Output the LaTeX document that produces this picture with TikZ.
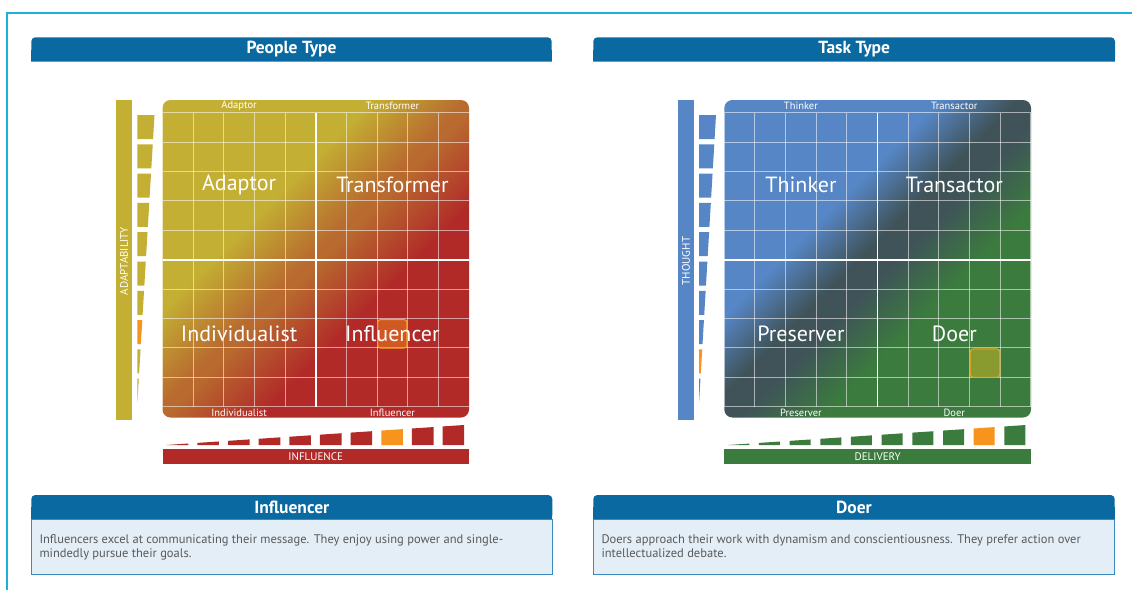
\documentclass[tikz,border=0pt]{standalone}
\usepackage{fontspec}
\setmainfont{PT Sans}
\usetikzlibrary{calc}

\definecolor{framecyan}{HTML}{1CB0DC}
\definecolor{hdrblue}{HTML}{0A69A0}
\definecolor{hdredge}{HTML}{5E9CC8}
\definecolor{descfill}{HTML}{E4EEF6}
\definecolor{descedge}{HTML}{3A89BF}
\definecolor{bodygray}{HTML}{5A5A5A}
\definecolor{pyel}{HTML}{C3AF33}
\definecolor{pmid}{HTML}{B86A2F}
\definecolor{pred}{HTML}{B12A28}
\definecolor{tblue}{HTML}{5686C6}
\definecolor{tdark}{HTML}{3F5359}
\definecolor{tgreen}{HTML}{3B7B3D}
\definecolor{hiorange}{HTML}{F7941E}
\definecolor{hiedge}{HTML}{F5A623}
\definecolor{hiyellow}{HTML}{E8C020}

% olive -> orange-brown -> red band across the diagonal
\pgfdeclarehorizontalshading{peopleband}{100bp}{color(0bp)=(pyel); color(42bp)=(pyel); color(49.5bp)=(pmid); color(50.5bp)=(pmid); color(58bp)=(pred); color(100bp)=(pred)}
% blue -> slate -> green band across the diagonal
\pgfdeclarehorizontalshading{taskband}{100bp}{color(0bp)=(tblue); color(42.5bp)=(tblue); color(48.5bp)=(tdark); color(51.5bp)=(tdark); color(58bp)=(tgreen); color(100bp)=(tgreen)}

\tikzset{
  hdrtext/.style={text=white, font=\fontsize{17.5}{19}\selectfont\bfseries, inner sep=0pt},
  bandlabel/.style={text=white, font=\fontsize{10.5}{12}\selectfont, inner sep=0pt},
  biglabel/.style={text=white, font=\fontsize{22}{24}\selectfont, inner sep=0pt},
  axislabel/.style={text=white, font=\fontsize{11}{12}\selectfont, inner sep=0pt},
  bodytext/.style={text=bodygray, font=\fontsize{12.5}{14}\selectfont, align=left, inner sep=0pt},
  gridline/.style={white, opacity=0.55, line width=1pt},
  midline/.style={white, line width=1.6pt},
  hicell/.style={fill=hiorange, fill opacity=0.45, draw=hiedge, line width=1pt, rounded corners=3pt},
}

\begin{document}
\begin{tikzpicture}[x=1pt, y=-1pt]
\useasboundingbox (0,0) rectangle (1132,590);
\fill[white] (0,0) rectangle (1132,590);

% page frame
\draw[framecyan, line width=2pt] (6.7,590) -- (6.7,12.7) -- (1132,12.7);

% section headers
\foreach \xa/\xb in {31.3/551.7, 593.3/1115} {
  \fill[hdrblue, rounded corners=4pt] (\xa,37.3) rectangle (\xb,61.7);
  \fill[hdrblue] (\xa,50) rectangle (\xb,61.7);
  \draw[hdredge, line width=0.6pt] (\xa,61.7) -- (\xb,61.7);
}
\node[hdrtext] (peopletitle) at (291.5,49.5) {People Type};
\node[hdrtext] (tasktitle) at (854.2,49.5) {Task Type};

% ---------- people matrix ----------
\def\cw{30.65}\def\rh{29.4}
\begin{scope}
  \clip[rounded corners=8pt] (162.5,100) rectangle (469,417.5);
  \begin{scope}[transform canvas={rotate around={-45:(315.75,258.7)}}]
    \shade[shading=peopleband] (90.75,33.7) rectangle (540.75,483.7);
  \end{scope}
  \foreach \k in {0,...,10} {
    \draw[gridline] (162.5+\k*\cw,112.7) -- (162.5+\k*\cw,406.7);
    \draw[gridline] (162.5,112.7+\k*\rh) -- (469,112.7+\k*\rh);
  }
\end{scope}
\draw[midline] (315.75,112.7) -- (315.75,406.7);
\draw[midline] (162.5,259.7) -- (469,259.7);
\path[hicell] (377.6,319.5) rectangle (406.9,348.1);

\node[bandlabel] (padtop) at (239.1,106.3) {Adaptor};
\node[bandlabel] (ptrtop) at (392.4,106.3) {Transformer};
\node[bandlabel] (pindbot) at (239.1,412.6) {Individualist};
\node[bandlabel] (pinfbot) at (392.4,412.6) {Influencer};
\node[biglabel] (padapt) at (239.1,185) {Adaptor};
\node[biglabel] (ptrans) at (392.4,185) {Transformer};
\node[biglabel] (pindiv) at (239.1,333.5) {Individualist};
\node[biglabel] (pinfl) at (392.4,333.5) {Influencer};

% adaptability scale
\fill[pyel] (116,100) rectangle (131.8,420);
\node[axislabel, rotate=90] (padlabel) at (124,261) {ADAPTABILITY};
\foreach \i in {0,...,9} {
  \pgfmathsetmacro\ya{115+29.3*\i}
  \pgfmathsetmacro\yb{\ya+24}
  \pgfmathsetmacro\xa{154.5-(\ya-115)*17.2/289}
  \pgfmathsetmacro\xb{154.5-(\yb-115)*17.2/289}
  \ifnum\i=7 \def\wc{hiorange}\else\def\wc{pyel}\fi
  \fill[\wc] (137.3,\ya) -- (\xa,\ya) -- (\xb,\yb) -- (137.3,\yb) -- cycle;
}
% influence scale
\fill[pred] (162.5,449) rectangle (469,464);
\node[axislabel] (pinlabel) at (315.75,456.8) {INFLUENCE};
\foreach \j in {0,...,9} {
  \pgfmathsetmacro\xa{166.7+30.65*\j}
  \pgfmathsetmacro\xb{\xa+21.6}
  \pgfmathsetmacro\ya{445-(\xa-166)*20/298}
  \pgfmathsetmacro\yb{445-(\xb-166)*20/298}
  \ifnum\j=7 \def\wc{hiorange}\else\def\wc{pred}\fi
  \fill[\wc] (\xa,445) -- (\xa,\ya) -- (\xb,\yb) -- (\xb,445) -- cycle;
}

% ---------- task matrix ----------
\begin{scope}
  \clip[rounded corners=8pt] (724.3,100) rectangle (1031,417.5);
  \begin{scope}[transform canvas={rotate around={-45:(877.65,258.7)}}]
    \shade[shading=taskband] (652.65,33.7) rectangle (1102.65,483.7);
  \end{scope}
  \foreach \k in {0,...,10} {
    \draw[gridline] (724.3+\k*\cw,112.7) -- (724.3+\k*\cw,406.7);
    \draw[gridline] (724.3,112.7+\k*\rh) -- (1031,112.7+\k*\rh);
  }
\end{scope}
\draw[midline] (877.65,112.7) -- (877.65,406.7);
\draw[midline] (724.3,259.7) -- (1031,259.7);
\path[hicell, fill=hiyellow, fill opacity=0.45] (970.2,348.9) rectangle (999.9,377.3);

\node[bandlabel] (tthtop) at (800.9,106.3) {Thinker};
\node[bandlabel] (ttrtop) at (954.3,106.3) {Transactor};
\node[bandlabel] (tprbot) at (800.9,412.6) {Preserver};
\node[bandlabel] (tdobot) at (954.3,412.6) {Doer};
\node[biglabel] (tthink) at (800.9,185) {Thinker};
\node[biglabel] (ttrans) at (954.3,185) {Transactor};
\node[biglabel] (tpres) at (800.9,333.5) {Preserver};
\node[biglabel] (tdoer) at (954.3,333.5) {Doer};

% thought scale
\fill[tblue] (678,100) rectangle (694,420);
\node[axislabel, rotate=90] (tthlabel) at (686,261) {THOUGHT};
\foreach \i in {0,...,9} {
  \pgfmathsetmacro\ya{115+29.3*\i}
  \pgfmathsetmacro\yb{\ya+24}
  \pgfmathsetmacro\xa{716-(\ya-115)*17/289}
  \pgfmathsetmacro\xb{716-(\yb-115)*17/289}
  \ifnum\i=8 \def\wc{hiorange}\else\def\wc{tblue}\fi
  \fill[\wc] (699,\ya) -- (\xa,\ya) -- (\xb,\yb) -- (699,\yb) -- cycle;
}
% delivery scale
\fill[tgreen] (724.3,449) rectangle (1031,464);
\node[axislabel] (tdelabel) at (877.65,456.8) {DELIVERY};
\foreach \j in {0,...,9} {
  \pgfmathsetmacro\xa{728.3+30.67*\j}
  \pgfmathsetmacro\xb{\xa+21}
  \pgfmathsetmacro\ya{445-(\xa-728)*20/298}
  \pgfmathsetmacro\yb{445-(\xb-728)*20/298}
  \ifnum\j=8 \def\wc{hiorange}\else\def\wc{tgreen}\fi
  \fill[\wc] (\xa,445) -- (\xa,\ya) -- (\xb,\yb) -- (\xb,445) -- cycle;
}

% ---------- description boxes ----------
\foreach \xa/\xb in {31.3/552.3, 593.3/1114.7} {
  \fill[hdrblue, rounded corners=4pt] (\xa,495) rectangle (\xb,519.3);
  \fill[hdrblue] (\xa,507) rectangle (\xb,519.3);
  \filldraw[fill=descfill, draw=descedge, line width=0.8pt] (\xa,519.3) rectangle (\xb,574.3);
}
\node[hdrtext] (infltitle) at (291.8,507.4) {Influencer};
\node[hdrtext] (doertitle) at (854,507.4) {Doer};
\node[bodytext, anchor=north west] (infltext) at (39.3,534.5) {Influencers excel at communicating their message. They enjoy using power and single-\\mindedly pursue their goals.};
\node[bodytext, anchor=north west] (doertext) at (601.3,534.5) {Doers approach their work with dynamism and conscientiousness. They prefer action over\\intellectualized debate.};
\end{tikzpicture}
\end{document}
